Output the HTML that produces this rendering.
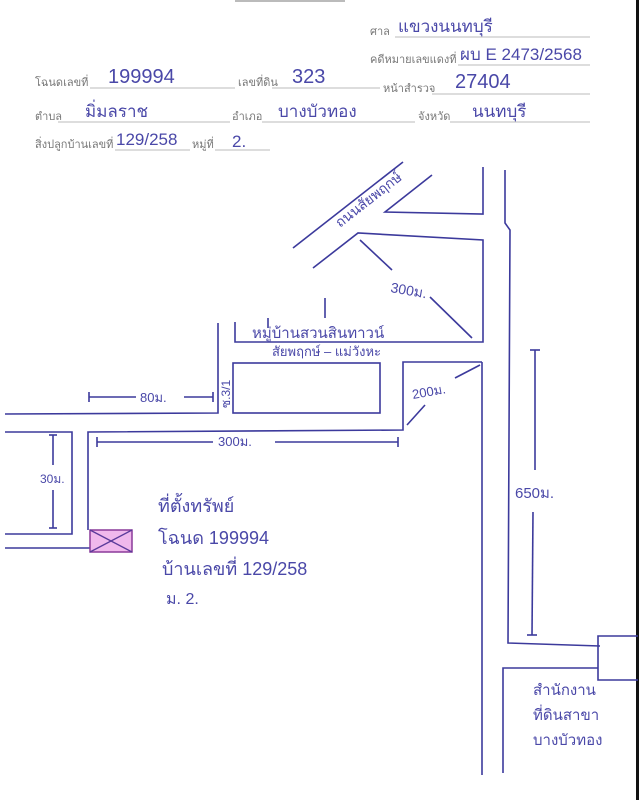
<!DOCTYPE html>
<html><head><meta charset="utf-8"><style>
html,body{margin:0;padding:0;background:#fff;width:639px;height:800px;overflow:hidden}
svg{display:block}
.l{font-family:"Liberation Sans","Noto Sans CJK SC",sans-serif;font-size:11px;fill:#777}
.h{font-family:"Liberation Sans","Noto Sans CJK SC",sans-serif;fill:#4a48a8}
</style></head><body>
<svg width="639" height="800" viewBox="0 0 639 800" xmlns="http://www.w3.org/2000/svg">
<rect x="636" y="0" width="3" height="800" fill="#111"/>
<line x1="235" y1="1" x2="345" y2="1" stroke="#bbb" stroke-width="2"/>
<!-- header -->
<g stroke="#bbb" stroke-width="1">
<line x1="395" y1="37" x2="590" y2="37"/>
<line x1="458" y1="65" x2="590" y2="65"/>
<line x1="90" y1="88" x2="235" y2="88"/>
<line x1="272" y1="88" x2="380" y2="88"/>
<line x1="432" y1="94" x2="590" y2="94"/>
<line x1="58" y1="122" x2="230" y2="122"/>
<line x1="262" y1="122" x2="415" y2="122"/>
<line x1="450" y1="122" x2="590" y2="122"/>
<line x1="115" y1="150" x2="190" y2="150"/>
<line x1="215" y1="150" x2="270" y2="150"/>
</g>
<text class="l" x="370" y="35">ศาล</text>
<text class="l" x="370" y="63">คดีหมายเลขแดงที่</text>
<text class="l" x="35" y="86">โฉนดเลขที่</text>
<text class="l" x="238" y="86">เลขที่ดิน</text>
<text class="l" x="383" y="92">หน้าสำรวจ</text>
<text class="l" x="35" y="120">ตำบล</text>
<text class="l" x="232" y="120">อำเภอ</text>
<text class="l" x="418" y="120">จังหวัด</text>
<text class="l" x="35" y="148">สิ่งปลูกบ้านเลขที่</text>
<text class="l" x="192" y="148">หมู่ที่</text>
<text class="h" x="398" y="32" font-size="17">แขวงนนทบุรี</text>
<text class="h" x="460" y="60" font-size="17">ผบ E 2473/2568</text>
<text class="h" x="108" y="83" font-size="20">199994</text>
<text class="h" x="292" y="83" font-size="20">323</text>
<text class="h" x="455" y="88" font-size="20">27404</text>
<text class="h" x="85" y="117" font-size="17">มิ่มลราช</text>
<text class="h" x="278" y="117" font-size="17">บางบัวทอง</text>
<text class="h" x="472" y="117" font-size="17">นนทบุรี</text>
<text class="h" x="116" y="145" font-size="17">129/258</text>
<text class="h" x="232" y="147" font-size="17">2.</text>
<!-- map lines -->
<g stroke="#3c3a9c" stroke-width="1.6" fill="none">
<line x1="293" y1="248" x2="403" y2="162"/>
<polyline points="313,268 358,233 483,240 483,342 235,342 235,322"/>
<polyline points="432,175 385,212 483,214 483,167"/>
<polyline points="505,170 505,223 510,230 508,643 600,646"/>
<polyline points="598,668 503,668 503,773"/>
<polyline points="482,362 482,775"/>
<polyline points="482,362 403,362 403,430 88,432 88,530"/>
<rect x="233" y="363" width="147" height="50"/>
<polyline points="218,323 218,413 5,414"/>
<polyline points="5,432 72,432 72,534 5,534"/>
<line x1="5" y1="548" x2="90" y2="548"/>
<polyline points="638,636 598,636 598,680 638,680"/>
<!-- dims -->
<line x1="89" y1="397" x2="136" y2="397"/><line x1="184" y1="397" x2="213" y2="397"/>
<line x1="89" y1="392" x2="89" y2="402"/><line x1="213" y1="392" x2="213" y2="402"/>
<line x1="97" y1="442" x2="213" y2="442"/><line x1="275" y1="442" x2="398" y2="442"/>
<line x1="97" y1="437" x2="97" y2="447"/><line x1="398" y1="437" x2="398" y2="447"/>
<line x1="53" y1="435" x2="53" y2="465"/><line x1="53" y1="490" x2="53" y2="528"/>
<line x1="49" y1="435" x2="57" y2="435"/><line x1="49" y1="528" x2="57" y2="528"/>
<line x1="535" y1="350" x2="535" y2="470"/><line x1="533" y1="512" x2="532" y2="635"/>
<line x1="530" y1="350" x2="540" y2="350"/><line x1="527" y1="635" x2="537" y2="635"/>
<line x1="360" y1="240" x2="392" y2="270"/><line x1="430" y1="297" x2="472" y2="338"/>
<line x1="455" y1="378" x2="480" y2="365"/><line x1="407" y1="425" x2="425" y2="405"/>
<line x1="325" y1="298" x2="325" y2="318"/><line x1="268" y1="318" x2="268" y2="328"/>
</g>
<rect x="90" y="530" width="42" height="22" fill="#f0b8ec" stroke="#8a3a9a" stroke-width="1.5"/>
<line x1="90" y1="530" x2="132" y2="552" stroke="#5a3a9a" stroke-width="1.3"/>
<line x1="90" y1="552" x2="132" y2="530" stroke="#5a3a9a" stroke-width="1.3"/>
<!-- map labels -->
<text class="h" font-size="14" transform="translate(340,228) rotate(-38)">ถนนสัยพฤกษ์</text>
<text class="h" x="390" y="292" font-size="14" transform="rotate(10 390 292)">300ม.</text>
<text class="h" x="252" y="338" font-size="15">หมู่บ้านสวนสินทาวน์</text>
<text class="h" x="272" y="356" font-size="13">สัยพฤกษ์ – แม่วังหะ</text>
<text class="h" x="413" y="399" font-size="13" transform="rotate(-10 413 399)">200ม.</text>
<text class="h" font-size="12" transform="translate(230,408) rotate(-90)">ซ.3/1</text>
<text class="h" x="140" y="402" font-size="13">80ม.</text>
<text class="h" x="218" y="446" font-size="13">300ม.</text>
<text class="h" x="40" y="483" font-size="12">30ม.</text>
<text class="h" x="515" y="498" font-size="15">650ม.</text>
<text class="h" x="158" y="512" font-size="18">ที่ตั้งทรัพย์</text>
<text class="h" x="158" y="544" font-size="18">โฉนด 199994</text>
<text class="h" x="162" y="575" font-size="18">บ้านเลขที่ 129/258</text>
<text class="h" x="166" y="604" font-size="16">ม. 2.</text>
<text class="h" x="533" y="695" font-size="15">สำนักงาน</text>
<text class="h" x="533" y="720" font-size="15">ที่ดินสาขา</text>
<text class="h" x="533" y="745" font-size="15">บางบัวทอง</text>
</svg>
</body></html>
